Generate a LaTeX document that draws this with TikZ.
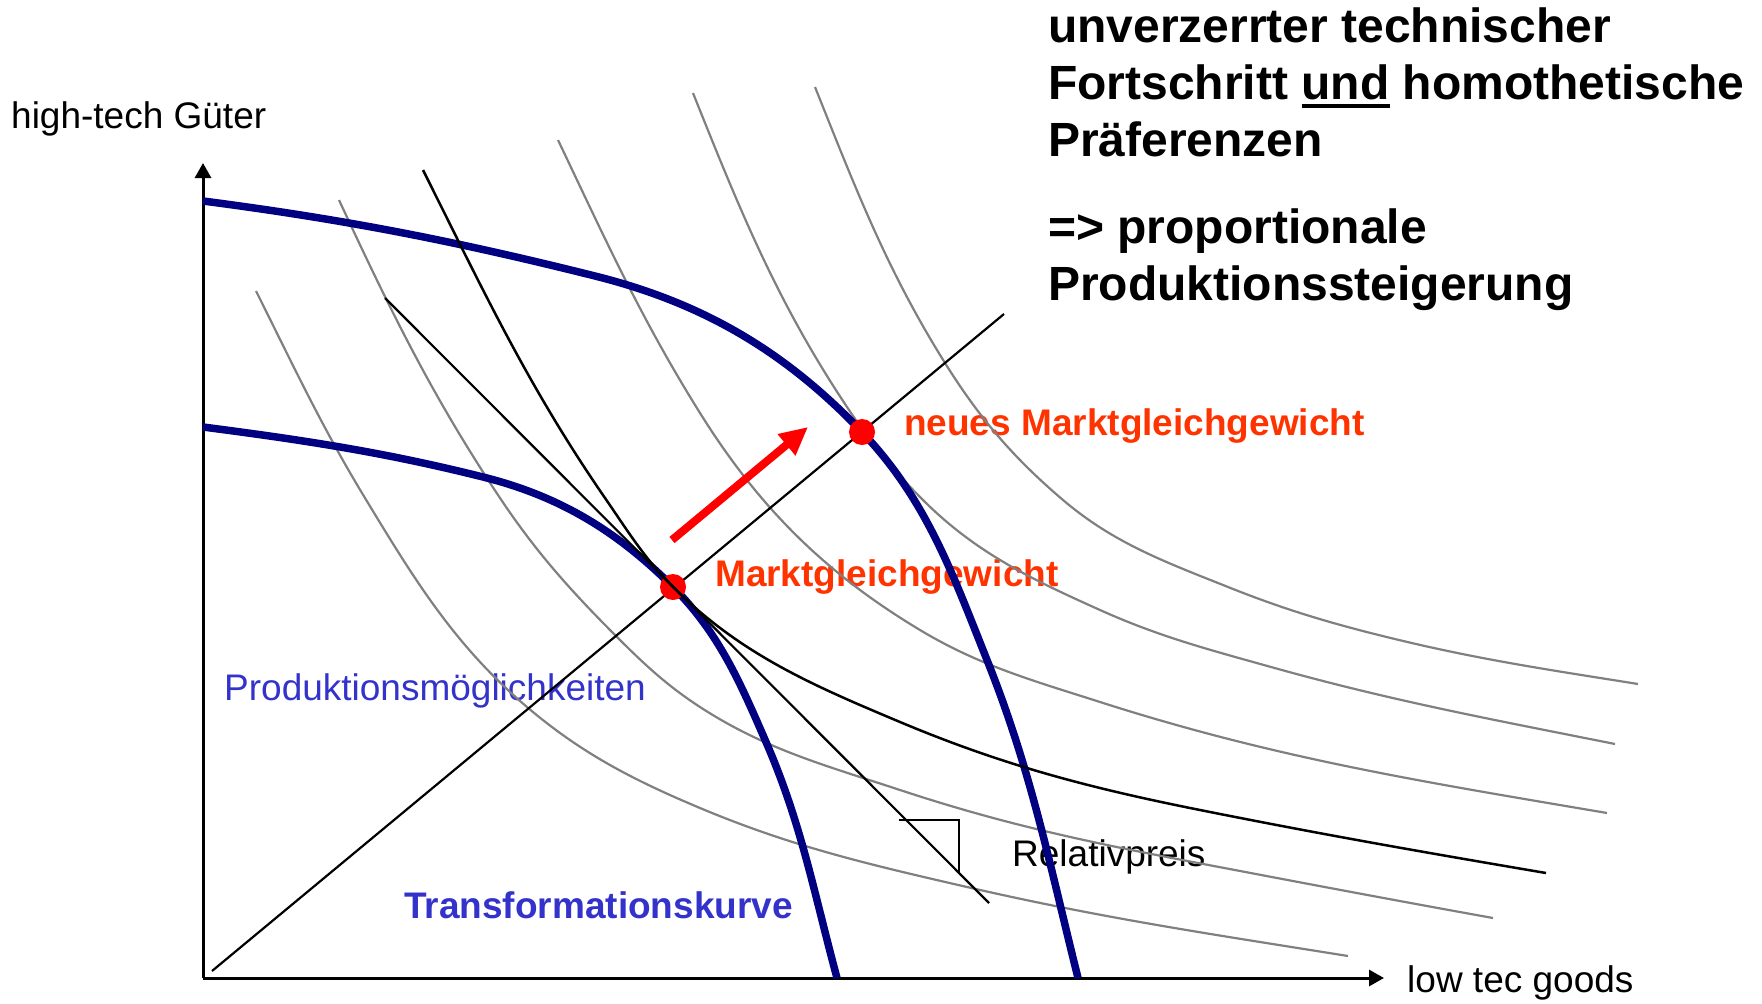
\documentclass[tikz,border=0pt]{standalone}
\usepackage{fontspec}
\setmainfont{Liberation Sans}
\usetikzlibrary{arrows.meta}

\definecolor{ppfblue}{HTML}{000080}
\definecolor{labelblue}{HTML}{3333CC}
\definecolor{eqorange}{HTML}{FF3300}
\definecolor{dotred}{HTML}{FF0000}
\definecolor{curvegray}{HTML}{808080}

% thick underline for a single word
\newcommand\thickul[1]{\leavevmode\setbox0=\hbox{#1}\rlap{\raisebox{-9pt}{\rule{\wd0}{4pt}}}\box0\relax}

% control points of a cubic segment from (#2,#3) with slope #4
% to (#5,#6) with slope #7; stored as (#1a) and (#1b)
\newcommand\bzseg[7]{%
  \pgfmathsetmacro\segchord{100*veclen((#5-#2)/100,(#6-#3)/100)}%
  \pgfmathsetmacro\segha{0.36*\segchord/sqrt(1+(#4)*(#4))}%
  \pgfmathsetmacro\seghb{0.36*\segchord/sqrt(1+(#7)*(#7))}%
  \coordinate (#1a) at ({#2+\segha},{#3+\segha*(#4)});%
  \coordinate (#1b) at ({#5-\seghb},{#6-\seghb*(#7)});%
}

\begin{document}
\begin{tikzpicture}[x=1pt,y=-1pt,
  txt/.style={anchor=base west, inner sep=0pt, font=\fontsize{37}{44}\selectfont},
  boldtxt/.style={txt, font=\fontsize{37}{44}\selectfont\bfseries},
  headline/.style={anchor=base west, inner sep=0pt, font=\fontsize{48}{57}\selectfont\bfseries},
  axis/.style={line width=3pt, -{Triangle[length=15pt,width=16pt]}},
  ppf/.style={line width=7.5pt, ppfblue},
  indiff/.style={line width=2.2pt, curvegray},
  mainindiff/.style={line width=2.5pt, black},
  thinline/.style={line width=2.2pt, black},
  eqdot/.style={circle, fill=dotred, minimum size=26pt, inner sep=0pt},
  shiftarrow/.style={line width=8pt, dotred, -{Triangle[length=28pt,width=26pt]}}
]
\useasboundingbox (0,0) rectangle (1762,1004);

% key points
\coordinate (O) at (203,978);
\coordinate (ytop) at (203,163);
\coordinate (xend) at (1384,978);
\coordinate (raystart) at (212,971);
\coordinate (rayend) at (1004,314);
\coordinate (pricestart) at (385,298);
\coordinate (priceend) at (989,903);
\coordinate (ra1) at (899,820);
\coordinate (ra2) at (959,820);
\coordinate (ra3) at (959,872);
\coordinate (shiftstart) at (672,540);
\coordinate (shiftend) at (808,427);

% labels
\node[txt] (ylab) at (11,128) {high-tech Güter};
\node[txt] (xlab) at (1407,992) {low tec goods};
\node[txt, labelblue] (pm) at (224,700) {Produktionsmöglichkeiten};
\node[boldtxt, labelblue] (tk) at (404,918) {Transformationskurve};
\node[txt] (rp) at (1012,866) {Relativpreis};
\node[boldtxt, eqorange] (mg) at (715,586) {Marktgleichgewicht};
\node[boldtxt, eqorange] (nmg) at (904,435) {neues Marktgleichgewicht};

\node[headline] (h1) at (1048,42) {unverzerrter technischer};
\node[headline] (h2) at (1048,99) {Fortschritt \thickul{und} homothetische};
\node[headline] (h3) at (1048,156) {Präferenzen};
\node[headline] (h4) at (1048,243) {=> proportionale};
\node[headline] (h5) at (1048,300) {Produktionssteigerung};

% axes
\draw[axis] (O) -- (ytop);
\draw[axis] (O) -- (xend);

% indifference curves (gray)
\bzseg{ga1}{256}{291}{2.0}{365}{498}{1.65}
\bzseg{ga2}{365}{498}{1.65}{527}{707}{0.85}
\bzseg{ga3}{527}{707}{0.85}{700}{808}{0.42}
\bzseg{ga4}{700}{808}{0.42}{967}{887}{0.23}
\bzseg{ga5}{967}{887}{0.23}{1348}{956}{0.16}
\draw[indiff] (256,291) .. controls (ga1a) and (ga1b) .. (365,498)
  .. controls (ga2a) and (ga2b) .. (527,707)
  .. controls (ga3a) and (ga3b) .. (700,808)
  .. controls (ga4a) and (ga4b) .. (967,887)
  .. controls (ga5a) and (ga5b) .. (1348,956);

\bzseg{gb1}{339}{200}{2.15}{500}{498}{1.5}
\bzseg{gb2}{500}{498}{1.5}{617}{637}{1.0}
\bzseg{gb3}{617}{637}{1.0}{700}{707}{0.65}
\bzseg{gb4}{700}{707}{0.65}{900}{790}{0.33}
\bzseg{gb5}{900}{790}{0.33}{1198}{863}{0.19}
\bzseg{gb6}{1198}{863}{0.19}{1493}{918}{0.18}
\draw[indiff] (339,200) .. controls (gb1a) and (gb1b) .. (500,498)
  .. controls (gb2a) and (gb2b) .. (617,637)
  .. controls (gb3a) and (gb3b) .. (700,707)
  .. controls (gb4a) and (gb4b) .. (900,790)
  .. controls (gb5a) and (gb5b) .. (1198,863)
  .. controls (gb6a) and (gb6b) .. (1493,918);

\bzseg{gc1}{558}{140}{2.1}{700}{413}{1.6}
\bzseg{gc2}{700}{413}{1.6}{920}{630}{0.6}
\bzseg{gc3}{920}{630}{0.6}{1100}{702}{0.32}
\bzseg{gc4}{1100}{702}{0.32}{1607}{813}{0.17}
\draw[indiff] (558,140) .. controls (gc1a) and (gc1b) .. (700,413)
  .. controls (gc2a) and (gc2b) .. (920,630)
  .. controls (gc3a) and (gc3b) .. (1100,702)
  .. controls (gc4a) and (gc4b) .. (1607,813);

\bzseg{gd1}{693}{93}{2.5}{847}{407}{1.5}
\bzseg{gd2}{847}{407}{1.5}{923}{500}{1.0}
\bzseg{gd3}{923}{500}{1.0}{1100}{610}{0.45}
\bzseg{gd4}{1100}{610}{0.45}{1271}{667}{0.28}
\bzseg{gd5}{1271}{667}{0.28}{1615}{744}{0.2}
\draw[indiff] (693,93) .. controls (gd1a) and (gd1b) .. (847,407)
  .. controls (gd2a) and (gd2b) .. (923,500)
  .. controls (gd3a) and (gd3b) .. (1100,610)
  .. controls (gd4a) and (gd4b) .. (1271,667)
  .. controls (gd5a) and (gd5b) .. (1615,744);

\bzseg{ge1}{815}{87}{2.5}{945}{363}{1.6}
\bzseg{ge2}{945}{363}{1.6}{1063}{500}{0.85}
\bzseg{ge3}{1063}{500}{0.85}{1228}{587}{0.4}
\bzseg{ge4}{1228}{587}{0.4}{1399}{640}{0.24}
\bzseg{ge5}{1399}{640}{0.24}{1638}{684}{0.16}
\draw[indiff] (815,87) .. controls (ge1a) and (ge1b) .. (945,363)
  .. controls (ge2a) and (ge2b) .. (1063,500)
  .. controls (ge3a) and (ge3b) .. (1228,587)
  .. controls (ge4a) and (ge4b) .. (1399,640)
  .. controls (ge5a) and (ge5b) .. (1638,684);

% production possibility frontiers
\bzseg{pi1}{203}{427}{0.13}{483}{477}{0.25}
\bzseg{pi2}{483}{477}{0.25}{673}{587}{1.0}
\bzseg{pi3}{673}{587}{1.0}{766}{742}{2.3}
\bzseg{pi4}{766}{742}{2.3}{837}{978}{3.7}
\draw[ppf] (203,427) .. controls (pi1a) and (pi1b) .. (483,477)
  .. controls (pi2a) and (pi2b) .. (673,587)
  .. controls (pi3a) and (pi3b) .. (766,742)
  .. controls (pi4a) and (pi4b) .. (837,978);

\bzseg{po1}{203}{201}{0.13}{595}{276}{0.25}
\bzseg{po2}{595}{276}{0.25}{862}{432}{1.05}
\bzseg{po3}{862}{432}{1.05}{987}{660}{2.5}
\bzseg{po4}{987}{660}{2.5}{1078}{978}{4.0}
\draw[ppf] (203,201) .. controls (po1a) and (po1b) .. (595,276)
  .. controls (po2a) and (po2b) .. (862,432)
  .. controls (po3a) and (po3b) .. (987,660)
  .. controls (po4a) and (po4b) .. (1078,978);

% expansion path
\draw[thinline] (raystart) -- (rayend);

% initial equilibrium
\node[eqdot] (eq) at (673,587) {};

% price line with right-angle mark
\draw[thinline] (pricestart) -- (priceend);
\draw[thinline, line width=2pt] (ra1) -- (ra2) -- (ra3);

% indifference curve through the initial equilibrium
\bzseg{bk1}{423}{170}{2.0}{605}{498}{1.45}
\bzseg{bk2}{605}{498}{1.45}{673}{587}{1.0}
\bzseg{bk3}{673}{587}{1.0}{900}{722}{0.42}
\bzseg{bk4}{900}{722}{0.42}{1200}{810}{0.2}
\bzseg{bk5}{1200}{810}{0.2}{1546}{873}{0.17}
\draw[mainindiff] (423,170) .. controls (bk1a) and (bk1b) .. (605,498)
  .. controls (bk2a) and (bk2b) .. (673,587)
  .. controls (bk3a) and (bk3b) .. (900,722)
  .. controls (bk4a) and (bk4b) .. (1200,810)
  .. controls (bk5a) and (bk5b) .. (1546,873);

% new equilibrium and shift
\node[eqdot] (neweq) at (862,432) {};
\draw[shiftarrow] (shiftstart) -- (shiftend);
\end{tikzpicture}
\end{document}
